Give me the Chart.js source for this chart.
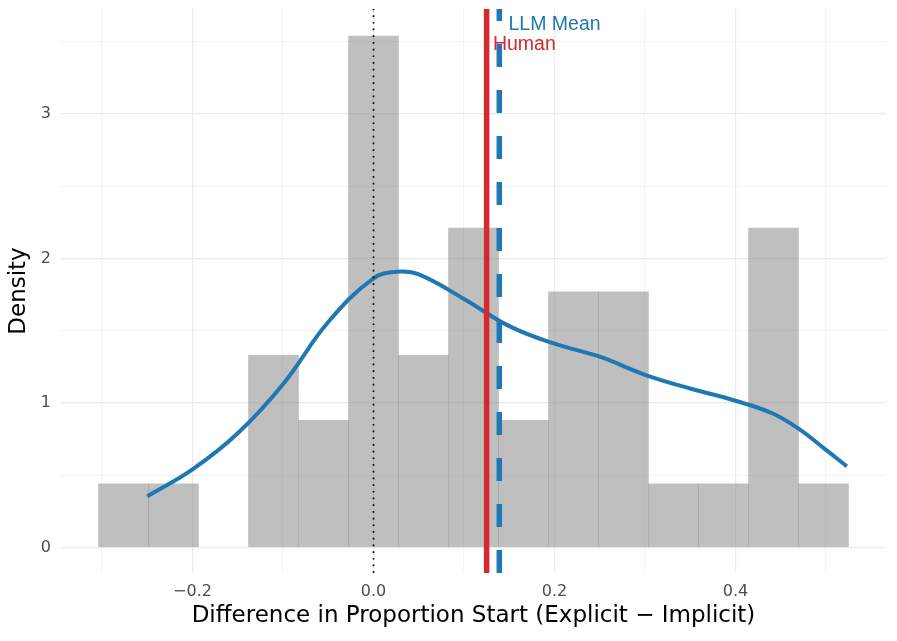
<!DOCTYPE html>
<html>
<head>
<meta charset="utf-8">
<script src="https://cdn.jsdelivr.net/npm/chart.js@4/dist/chart.umd.min.js"></script>
<style>
  html, body { margin: 0; padding: 0; background: #ffffff; }
  #wrap { width: 897px; height: 641px; position: relative; }
</style>
</head>
<body>
<div id="wrap"><canvas id="c" width="897" height="641"></canvas></div>
<script>
// ---- Data ----
const binCenters = [-0.2762, -0.2210, -0.1657, -0.1105, -0.0552, 0.0000, 0.0552, 0.1105, 0.1657, 0.2210, 0.2762, 0.3315, 0.3867, 0.4420, 0.4972];
const binDensity = [0.44, 0.44, 0, 1.33, 0.88, 3.54, 1.33, 2.21, 0.88, 1.77, 1.77, 0.44, 0.44, 2.21, 0.44];

const kdeX = [-0.250, -0.200, -0.150, -0.100, -0.050, 0.000, 0.026, 0.050, 0.100, 0.150, 0.200, 0.250, 0.300, 0.350, 0.400, 0.440, 0.470, 0.500, 0.523];
const kdeY = [0.353, 0.540, 0.790, 1.130, 1.560, 1.862, 1.908, 1.890, 1.720, 1.532, 1.410, 1.320, 1.195, 1.100, 1.015, 0.930, 0.820, 0.675, 0.561];

const zeroRef = 0.0;
const humanMean = 0.125;
const llmMean = 0.139;
const llmLabel = "LLM Mean";
const humanLabel = "Human";
const llmLabelY = 3.62;
const humanLabelY = 3.48;

const xTicks = [-0.3, -0.2, -0.1, 0.0, 0.1, 0.2, 0.3, 0.4, 0.5];
const xMajor = [-0.2, 0.0, 0.2, 0.4];
const xTickLabels = ["\u22120.2", "0.0", "0.2", "0.4"];
const yTicks = [0, 0.5, 1, 1.5, 2, 2.5, 3, 3.5];
const yMajor = [0, 1, 2, 3];
const yTickLabels = ["0", "1", "2", "3"];

const xTitle = "Difference in Proportion Start (Explicit \u2212 Implicit)";
const yTitle = "Density";

// ---- Styles ----
const BLUE = "#1f78b4";
const RED = "#d7282b";
const GRID = "#ebebeb";
const AXFONT = "'DejaVu Sans', Verdana, sans-serif";
const FONT = "'Liberation Sans', Arial, Helvetica, sans-serif";

const near = (a, b) => Math.abs(a - b) < 1e-6;
const majorIndex = (arr, v) => arr.findIndex(m => near(m, v));

const vlinePlugin = {
  id: 'vlines',
  afterDatasetsDraw(chart) {
    const { ctx, chartArea, scales } = chart;
    const xs = scales.x, ys = scales.y;
    ctx.save();
    ctx.beginPath();
    ctx.rect(chartArea.left, chartArea.top, chartArea.right - chartArea.left, chartArea.bottom - chartArea.top);
    ctx.clip();
    const drawV = (val, color, width, dash) => {
      const px = xs.getPixelForValue(val);
      ctx.beginPath();
      ctx.strokeStyle = color;
      ctx.lineWidth = width;
      ctx.setLineDash(dash);
      ctx.lineCap = 'butt';
      ctx.moveTo(px, chartArea.bottom);
      ctx.lineTo(px, chartArea.top);
      ctx.stroke();
    };
    drawV(zeroRef, "#000000", 1.7, [1.7, 5]);
    drawV(humanMean, RED, 5.5, []);
    drawV(llmMean, BLUE, 5.5, [23, 23]);
    ctx.setLineDash([]);
    ctx.restore();

    ctx.save();
    ctx.font = "19.5px " + FONT;
    ctx.textBaseline = 'middle';
    ctx.textAlign = 'left';
    const label = (txt, val, yv, color) => {
      const w = ctx.measureText(txt).width;
      ctx.fillStyle = color;
      ctx.fillText(txt, xs.getPixelForValue(val) + 0.1 * w, ys.getPixelForValue(yv));
    };
    label(llmLabel, llmMean, llmLabelY, BLUE);
    label(humanLabel, humanMean, humanLabelY, RED);
    ctx.restore();
  }
};

new Chart(document.getElementById('c'), {
  type: 'bar',
  data: {
    datasets: [
      {
        type: 'bar',
        data: binCenters.map((x, i) => ({ x: x, y: binDensity[i] })),
        backgroundColor: (c) => (c.raw && c.raw.y > 0) ? 'rgba(128,128,128,0.5)' : 'rgba(0,0,0,0)',
        borderWidth: 0,
        barPercentage: 1.0,
        categoryPercentage: 1.0,
        order: 2
      },
      {
        type: 'line',
        data: kdeX.map((x, i) => ({ x: x, y: kdeY[i] })),
        borderColor: BLUE,
        borderWidth: 4,
        pointRadius: 0,
        fill: false,
        tension: 0.4,
        order: 1
      }
    ]
  },
  options: {
    responsive: false,
    animation: false,
    devicePixelRatio: 1,
    layout: { padding: { top: 9, right: 11, left: 0, bottom: 0 } },
    plugins: { legend: { display: false }, tooltip: { enabled: false } },
    scales: {
      x: {
        type: 'linear',
        min: -0.3453,
        max: 0.5663,
        offset: false,
        border: { display: false },
        grid: {
          offset: false,
          drawTicks: false,
          color: GRID,
          lineWidth: (c) => (c.tick && majorIndex(xMajor, c.tick.value) >= 0) ? 1.2 : 0.6
        },
        afterBuildTicks: (s) => { s.ticks = xTicks.map(v => ({ value: v })); },
        afterFit: (s) => { s.height = 68; s.paddingLeft = 0; s.paddingRight = 0; },
        ticks: {
          padding: 9,
          color: '#4d4d4d',
          font: { size: 16, family: AXFONT },
          maxRotation: 0,
          autoSkip: false,
          callback: (v) => { const i = majorIndex(xMajor, v); return i >= 0 ? xTickLabels[i] : ''; }
        },
        title: {
          display: true,
          text: xTitle,
          color: '#000000',
          font: { size: 23, family: AXFONT },
          padding: { top: 0, bottom: 11 }
        }
      },
      y: {
        type: 'linear',
        min: -0.1775,
        max: 3.7275,
        border: { display: false },
        grid: {
          drawTicks: false,
          color: GRID,
          lineWidth: (c) => (c.tick && majorIndex(yMajor, c.tick.value) >= 0) ? 1.2 : 0.6
        },
        afterBuildTicks: (s) => { s.ticks = yTicks.map(v => ({ value: v })); },
        afterFit: (s) => { s.width = 61; s.paddingTop = 0; s.paddingBottom = 0; },
        ticks: {
          padding: 10,
          color: '#4d4d4d',
          font: { size: 16, family: AXFONT },
          autoSkip: false,
          callback: (v) => { const i = majorIndex(yMajor, v); return i >= 0 ? yTickLabels[i] : ''; }
        },
        title: {
          display: true,
          text: yTitle,
          color: '#000000',
          font: { size: 23, family: AXFONT },
          padding: { top: 5, bottom: 0 }
        }
      }
    }
  },
  plugins: [vlinePlugin]
});
</script>
</body>
</html>
